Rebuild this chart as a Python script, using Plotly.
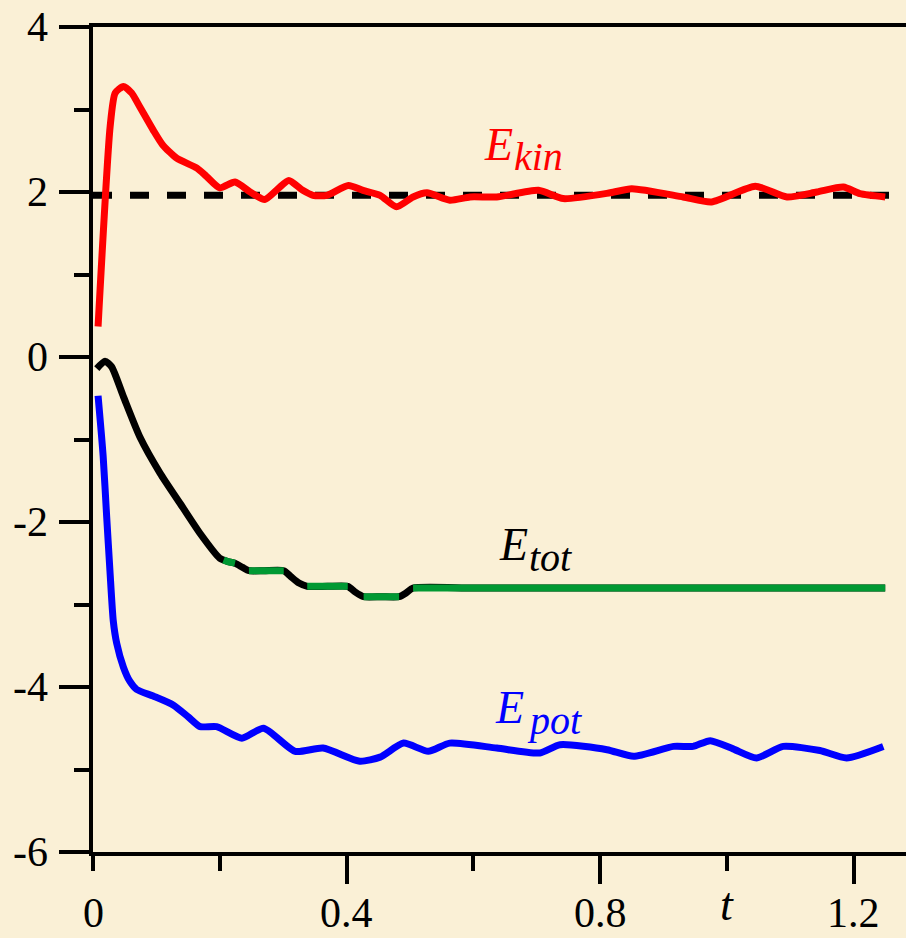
import numpy as np
import plotly.graph_objects as go

# ---- energies vs. time ----
t_kin = [0.008, 0.027, 0.035, 0.048, 0.061, 0.074, 0.095, 0.110, 0.132, 0.164, 0.179,
         0.200, 0.224, 0.248, 0.271, 0.292, 0.309, 0.331, 0.347, 0.369, 0.403, 0.426,
         0.453, 0.479, 0.505, 0.527, 0.563, 0.595, 0.637, 0.703, 0.742, 0.816, 0.850,
         0.931, 0.976, 1.045, 1.095, 1.142, 1.184, 1.210, 1.250]
e_kin = [0.37, 2.79, 3.20, 3.28, 3.20, 3.03, 2.75, 2.57, 2.41, 2.29, 2.19,
         2.05, 2.12, 2.00, 1.91, 2.04, 2.14, 2.02, 1.96, 1.96, 2.08, 2.02,
         1.96, 1.82, 1.94, 1.99, 1.90, 1.94, 1.94, 2.02, 1.92, 1.99, 2.04,
         1.94, 1.88, 2.07, 1.94, 2.00, 2.06, 1.98, 1.94]

t_tot = [0.006, 0.019, 0.0295, 0.048, 0.074, 0.106, 0.137, 0.169, 0.200, 0.206, 0.213,
         0.224, 0.236, 0.246, 0.270, 0.301, 0.312, 0.325, 0.338, 0.370, 0.402, 0.414,
         0.427, 0.455, 0.483, 0.494, 0.505, 0.600, 0.800, 1.000, 1.250]
e_tot = [-0.14, -0.05, -0.12, -0.48, -0.97, -1.41, -1.77, -2.14, -2.44, -2.46, -2.48,
         -2.50, -2.55, -2.59, -2.59, -2.59, -2.66, -2.74, -2.78, -2.78, -2.78, -2.85,
         -2.905, -2.905, -2.905, -2.86, -2.80, -2.80, -2.80, -2.80, -2.80]

# time windows where the total energy is shown in green
green_windows = [(0.205, 0.225), (0.245, 0.302), (0.337, 0.403), (0.426, 0.484), (0.504, 1.26)]

t_pot = [0.008, 0.016, 0.0216, 0.0268, 0.032, 0.0374, 0.048, 0.058, 0.069, 0.095, 0.127,
         0.150, 0.169, 0.195, 0.235, 0.269, 0.319, 0.363, 0.421, 0.453, 0.490, 0.529,
         0.563, 0.637, 0.705, 0.737, 0.811, 0.853, 0.916, 0.947, 0.974, 1.010, 1.047,
         1.089, 1.147, 1.189, 1.247]
e_pot = [-0.47, -1.20, -1.94, -2.60, -3.20, -3.47, -3.76, -3.93, -4.03, -4.11, -4.22,
         -4.36, -4.48, -4.48, -4.62, -4.50, -4.78, -4.74, -4.90, -4.85, -4.68, -4.78,
         -4.68, -4.74, -4.80, -4.70, -4.76, -4.84, -4.72, -4.72, -4.65, -4.75, -4.86,
         -4.72, -4.77, -4.86, -4.72]

e_kin_mean = 1.96
t_range = [0.0, 1.2828]

y_ticks = [-6, -4, -2, 0, 2, 4]
y_ticktext = ["-6", "-4", "-2", "0", "2", "4"]
y_minor = [-5, -3, -1, 1, 3]
x_ticks = [0.4, 0.8, 1.2]
x_minor = [0.0, 0.2, 0.6, 1.0]
x_labelvals = [0.0, 0.4, 0.8, 1.2]
x_ticktext = ["0", "0.4", "0.8", "1.2"]

BG = "#faf0d6"
SERIF = "Liberation Serif"
RED, BLUE, GREEN = "#ff0000", "#0000ff", "#009933"
LW = 7

tt = np.array(t_tot)
et = np.array(e_tot, dtype=float)
in_green = np.zeros(len(tt), dtype=bool)
for a, b in green_windows:
    in_green |= (tt >= a) & (tt <= b)
e_tot_green = [v if g else None for v, g in zip(et, in_green)]

fig = go.Figure()
line_common = dict(shape="spline", smoothing=0.6)

fig.add_trace(go.Scatter(x=t_range, y=[e_kin_mean, e_kin_mean], mode="lines",
                         line=dict(color="black", width=7, dash="19px,18px"),
                         hoverinfo="skip"))
fig.add_trace(go.Scatter(x=t_kin, y=e_kin, mode="lines",
                         line=dict(color=RED, width=LW, **line_common)))
fig.add_trace(go.Scatter(x=t_tot, y=e_tot, mode="lines",
                         line=dict(color="black", width=LW, **line_common)))
fig.add_trace(go.Scatter(x=t_tot, y=e_tot_green, mode="lines", connectgaps=False,
                         line=dict(color=GREEN, width=LW, **line_common)))
fig.add_trace(go.Scatter(x=t_pot, y=e_pot, mode="lines",
                         line=dict(color=BLUE, width=LW, **line_common)))

fig.update_layout(
    width=906, height=938,
    margin=dict(l=93, r=0, t=27, b=86),
    paper_bgcolor=BG, plot_bgcolor=BG,
    showlegend=False,
    font=dict(family=SERIF),
    xaxis=dict(range=t_range, showgrid=False, zeroline=False,
               showline=True, linecolor="black", linewidth=4, mirror=True,
               ticks="outside", ticklen=28, tickwidth=4, tickcolor="black",
               tickvals=x_ticks, showticklabels=False,
               minor=dict(tickvals=x_minor, ticks="outside", ticklen=15,
                          tickwidth=4, tickcolor="black", showgrid=False)),
    yaxis=dict(range=[-6, 4], showgrid=False, zeroline=False,
               showline=True, linecolor="black", linewidth=4,
               ticks="outside", ticklen=30, tickwidth=4, tickcolor="black",
               tickvals=y_ticks, showticklabels=False,
               minor=dict(tickvals=y_minor, ticks="outside", ticklen=15,
                          tickwidth=4, tickcolor="black", showgrid=False)),
)

tick_font = dict(family=SERIF, size=42, color="black")

# tick labels, set in Times-style serif
for v, s in zip(y_ticks, y_ticktext):
    fig.add_annotation(x=-0.0529, y=v, xref="paper", yref="y", text=s, showarrow=False,
                       xanchor="right", yanchor="middle", font=tick_font)
for v, s in zip(x_labelvals, x_ticktext):
    fig.add_annotation(x=v, y=-0.1038, xref="x", yref="paper", text=s, showarrow=False,
                       xanchor="center", yanchor="bottom", font=tick_font)


def label(main, sub, color, x_main, y_main, x_sub, y_sub):
    fig.add_annotation(x=x_main, y=y_main, xref="x", yref="y", text=main,
                       showarrow=False, xanchor="left", yanchor="middle",
                       font=dict(family=SERIF, size=46, color=color, style="italic"))
    fig.add_annotation(x=x_sub, y=y_sub, xref="x", yref="y", text=sub,
                       showarrow=False, xanchor="left", yanchor="middle",
                       font=dict(family=SERIF, size=40, color=color, style="italic"))


label("E", "kin", RED, 0.6138, 2.579, 0.661, 2.436)
label("E", "tot", "black", 0.637, -2.273, 0.685, -2.436)
label("E", "pot", BLUE, 0.631, -4.253, 0.6816, -4.412)

fig.add_annotation(x=1.0004, y=-0.1038, xref="x", yref="paper", text="t",
                   showarrow=False, xanchor="center", yanchor="bottom", yshift=6,
                   font=dict(family=SERIF, size=46, color="black", style="italic"))

fig.write_html("out.html")
